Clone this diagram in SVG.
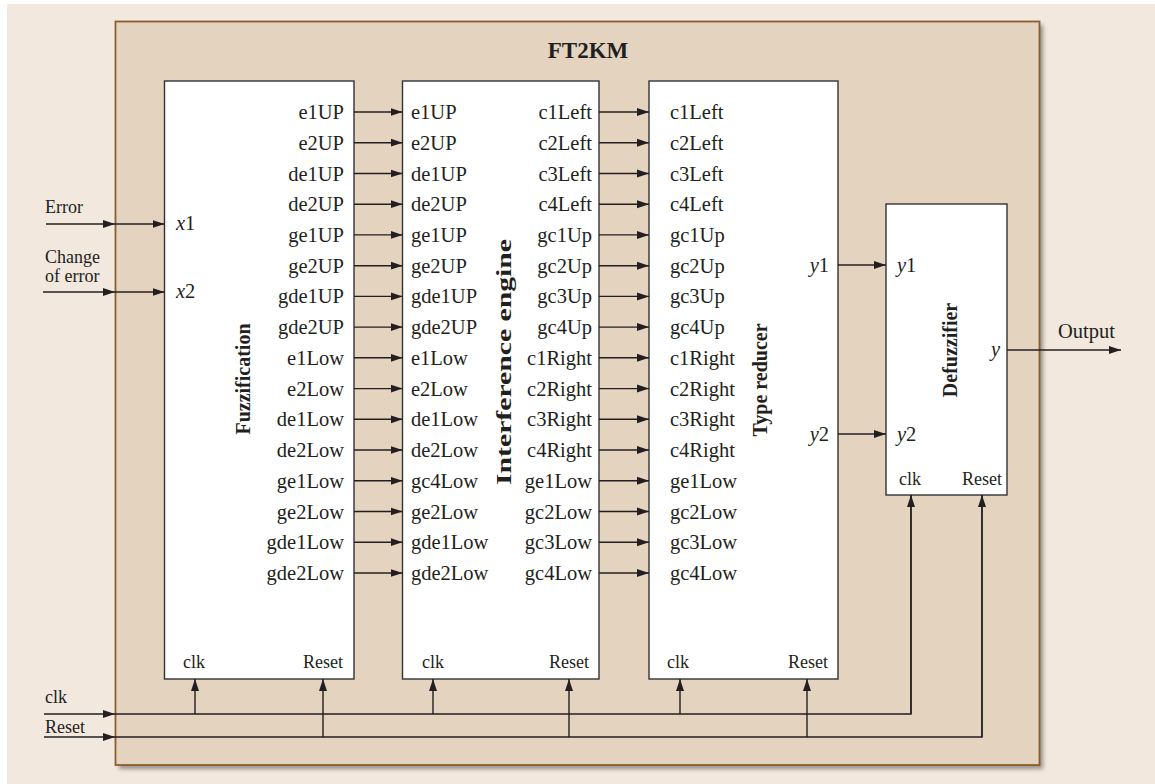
<svg xmlns="http://www.w3.org/2000/svg" width="1155" height="784" viewBox="0 0 1155 784">
<style>
text{font-family:"Liberation Serif","Times New Roman",serif;fill:#231f20}
.r{font-size:20.5px}
.s{font-size:18px}
.b{font-weight:bold;font-size:20px;text-anchor:middle}
.e{text-anchor:end}
.box{fill:#fff;stroke:#333;stroke-width:1.4}
.ln{stroke:#231f20;stroke-width:1.4;fill:none}
.ar{stroke:#231f20;stroke-width:1.4;fill:none;marker-end:url(#ah)}
</style>
<defs>
<marker id="ah" markerWidth="12" markerHeight="9" refX="12" refY="4.5" orient="auto" markerUnits="userSpaceOnUse"><path d="M0,0.5 L12,4.5 L0,8.5 z" fill="#231f20"/></marker>
<filter id="sh" x="-5%" y="-5%" width="110%" height="110%"><feGaussianBlur stdDeviation="2"/></filter>
</defs>
<rect x="7" y="4" width="1148" height="780" fill="#f2e8de"/>
<g id="frame">
<rect x="119" y="25" width="924" height="744" fill="#9a9088" filter="url(#sh)"/>
<rect x="115.5" y="21.5" width="924" height="743.5" fill="#e3d3bf" stroke="#8b5e2e" stroke-width="1.8"/>
<text x="588" y="58" style="font-weight:bold;font-size:23px;text-anchor:middle">FT2KM</text>
</g>
<g id="fuzzification">
<rect class="box" x="164.5" y="81" width="189.5" height="598"/>
<text class="b" transform="translate(250,379) rotate(-90)">Fuzzification</text>
<text class="r" x="176" y="230"><tspan font-style="italic">x</tspan>1</text>
<text class="r" x="176" y="298"><tspan font-style="italic">x</tspan>2</text>
<g class="r e">
<text x="344" y="119">e1UP</text><text x="344" y="149.7">e2UP</text><text x="344" y="180.5">de1UP</text><text x="344" y="211.2">de2UP</text>
<text x="344" y="241.9">ge1UP</text><text x="344" y="272.7">ge2UP</text><text x="344" y="303.4">gde1UP</text><text x="344" y="334.1">gde2UP</text>
<text x="344" y="364.8">e1Low</text><text x="344" y="395.6">e2Low</text><text x="344" y="426.3">de1Low</text><text x="344" y="457">de2Low</text>
<text x="344" y="487.8">ge1Low</text><text x="344" y="518.5">ge2Low</text><text x="344" y="549.2">gde1Low</text><text x="344" y="580">gde2Low</text>
</g>
<text class="s" x="183" y="668">clk</text>
<text class="s e" x="343" y="668">Reset</text>
</g>
<g id="inference">
<rect class="box" x="402.5" y="81" width="196.5" height="598"/>
<text class="b" transform="translate(511,362) rotate(-90)" textLength="246" lengthAdjust="spacingAndGlyphs">Interference engine</text>
<g class="r">
<text x="411" y="119">e1UP</text><text x="411" y="149.7">e2UP</text><text x="411" y="180.5">de1UP</text><text x="411" y="211.2">de2UP</text>
<text x="411" y="241.9">ge1UP</text><text x="411" y="272.7">ge2UP</text><text x="411" y="303.4">gde1UP</text><text x="411" y="334.1">gde2UP</text>
<text x="411" y="364.8">e1Low</text><text x="411" y="395.6">e2Low</text><text x="411" y="426.3">de1Low</text><text x="411" y="457">de2Low</text>
<text x="411" y="487.8">gc4Low</text><text x="411" y="518.5">ge2Low</text><text x="411" y="549.2">gde1Low</text><text x="411" y="580">gde2Low</text>
</g>
<g class="r e">
<text x="592" y="119">c1Left</text><text x="592" y="149.7">c2Left</text><text x="592" y="180.5">c3Left</text><text x="592" y="211.2">c4Left</text>
<text x="592" y="241.9">gc1Up</text><text x="592" y="272.7">gc2Up</text><text x="592" y="303.4">gc3Up</text><text x="592" y="334.1">gc4Up</text>
<text x="592" y="364.8">c1Right</text><text x="592" y="395.6">c2Right</text><text x="592" y="426.3">c3Right</text><text x="592" y="457">c4Right</text>
<text x="592" y="487.8">ge1Low</text><text x="592" y="518.5">gc2Low</text><text x="592" y="549.2">gc3Low</text><text x="592" y="580">gc4Low</text>
</g>
<text class="s" x="422" y="668">clk</text>
<text class="s e" x="589" y="668">Reset</text>
</g>
<g id="typereducer">
<rect class="box" x="649" y="81" width="189" height="598"/>
<text class="b" transform="translate(767,380) rotate(-90)">Type reducer</text>
<g class="r">
<text x="670" y="119">c1Left</text><text x="670" y="149.7">c2Left</text><text x="670" y="180.5">c3Left</text><text x="670" y="211.2">c4Left</text>
<text x="670" y="241.9">gc1Up</text><text x="670" y="272.7">gc2Up</text><text x="670" y="303.4">gc3Up</text><text x="670" y="334.1">gc4Up</text>
<text x="670" y="364.8">c1Right</text><text x="670" y="395.6">c2Right</text><text x="670" y="426.3">c3Right</text><text x="670" y="457">c4Right</text>
<text x="670" y="487.8">ge1Low</text><text x="670" y="518.5">gc2Low</text><text x="670" y="549.2">gc3Low</text><text x="670" y="580">gc4Low</text>
</g>
<text class="r e" x="829" y="272"><tspan font-style="italic">y</tspan>1</text>
<text class="r e" x="829" y="441"><tspan font-style="italic">y</tspan>2</text>
<text class="s" x="667" y="668">clk</text>
<text class="s e" x="828" y="668">Reset</text>
</g>
<g id="defuzzifier">
<rect class="box" x="886" y="204" width="121" height="291"/>
<text class="b" transform="translate(957,350) rotate(-90)">Defuzzifier</text>
<text class="r" x="897" y="272"><tspan font-style="italic">y</tspan>1</text>
<text class="r" x="897" y="441"><tspan font-style="italic">y</tspan>2</text>
<text class="r e" x="1000" y="356" font-style="italic">y</text>
<text class="s" x="899" y="485">clk</text>
<text class="s e" x="1002" y="485">Reset</text>
</g>
<g id="labels">
<text class="s" x="45" y="213">Error</text>
<text class="s" x="45" y="263">Change</text>
<text class="s" x="45" y="282">of error</text>
<text class="s" x="45" y="703">clk</text>
<text class="s" x="45" y="733">Reset</text>
<text class="r" x="1058" y="338">Output</text>
</g>
<g id="connectors">
<path class="ar" d="M46,224H115"/><path class="ar" d="M115,224H164.5"/>
<path class="ar" d="M43,292H115"/><path class="ar" d="M115,292H164.5"/>
<path class="ar" d="M354,112H402.5"/><path class="ar" d="M354,142.7H402.5"/><path class="ar" d="M354,173.5H402.5"/><path class="ar" d="M354,204.2H402.5"/>
<path class="ar" d="M354,234.9H402.5"/><path class="ar" d="M354,265.7H402.5"/><path class="ar" d="M354,296.4H402.5"/><path class="ar" d="M354,327.1H402.5"/>
<path class="ar" d="M354,357.8H402.5"/><path class="ar" d="M354,388.6H402.5"/><path class="ar" d="M354,419.3H402.5"/><path class="ar" d="M354,450H402.5"/>
<path class="ar" d="M354,480.8H402.5"/><path class="ar" d="M354,511.5H402.5"/><path class="ar" d="M354,542.2H402.5"/><path class="ar" d="M354,573H402.5"/>
<path class="ar" d="M599,112H649"/><path class="ar" d="M599,142.7H649"/><path class="ar" d="M599,173.5H649"/><path class="ar" d="M599,204.2H649"/>
<path class="ar" d="M599,234.9H649"/><path class="ar" d="M599,265.7H649"/><path class="ar" d="M599,296.4H649"/><path class="ar" d="M599,327.1H649"/>
<path class="ar" d="M599,357.8H649"/><path class="ar" d="M599,388.6H649"/><path class="ar" d="M599,419.3H649"/><path class="ar" d="M599,450H649"/>
<path class="ar" d="M599,480.8H649"/><path class="ar" d="M599,511.5H649"/><path class="ar" d="M599,542.2H649"/><path class="ar" d="M599,573H649"/>
<path class="ar" d="M838,265H886"/><path class="ar" d="M838,434H886"/>
<path class="ar" d="M1007,350H1121"/>
<path class="ar" d="M44,714H115"/><path class="ar" d="M44,737H115"/>
<path class="ln" d="M115,714H911V495"/><path class="ln" d="M115,737H982V495"/>
<path class="ar" d="M911,714V495"/><path class="ar" d="M982,737V495"/>
<path class="ar" d="M195,714V679"/><path class="ar" d="M323,737V679"/>
<path class="ar" d="M433,714V679"/><path class="ar" d="M569,737V679"/>
<path class="ar" d="M680,714V679"/><path class="ar" d="M807,737V679"/>
</g>
</svg>
